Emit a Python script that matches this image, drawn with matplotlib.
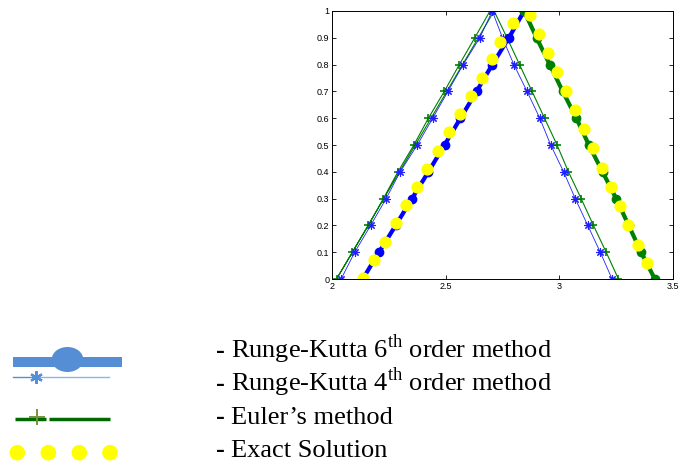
import matplotlib.pyplot as plt
from matplotlib.patches import Ellipse, Circle, Rectangle

plt.rcParams['mathtext.fontset'] = 'custom'
plt.rcParams['mathtext.rm'] = 'Liberation Serif'

# y levels used by the numerical solutions
y_lev = [0, 0.1, 0.2, 0.3, 0.4, 0.5, 0.6, 0.7, 0.8, 0.9, 1.0]

# Euler's method (thin green, +)
euler_x_up = [2.02, 2.09, 2.16, 2.226, 2.29, 2.36, 2.424, 2.494, 2.56, 2.628, 2.695]
euler_x_dn = [2.713, 2.77, 2.825, 2.88, 2.935, 2.99, 3.04, 3.096, 3.15, 3.206, 3.26]

# Runge-Kutta 4th order (thin blue, *)
rk4_x_up = [2.04, 2.10, 2.17, 2.238, 2.30, 2.375, 2.443, 2.51, 2.577, 2.65, 2.705]
rk4_x_dn = [2.705, 2.75, 2.80, 2.858, 2.914, 2.962, 3.019, 3.07, 3.125, 3.18, 3.232]

# Runge-Kutta 6th order (thick, dots)
rk6_x_up = [2.135, 2.207, 2.28, 2.352, 2.424, 2.495, 2.565, 2.636, 2.705, 2.778, 2.845]
rk6_x_dn = [2.845, 2.90, 2.958, 3.015, 3.075, 3.13, 3.19, 3.25, 3.305, 3.36, 3.42]

# exact solution (yellow dots)
exact_x = [2.135, 2.185, 2.234, 2.28, 2.326, 2.372, 2.42, 2.465, 2.514, 2.563, 2.61,
           2.658, 2.704, 2.738, 2.797, 2.87, 2.91, 2.95, 2.99, 3.03, 3.07, 3.108,
           3.148, 3.189, 3.228, 3.265, 3.304, 3.345, 3.384]
exact_y = [0.005, 0.071, 0.139, 0.208, 0.276, 0.344, 0.41, 0.478, 0.547, 0.614, 0.683,
           0.751, 0.82, 0.886, 0.954, 0.985, 0.914, 0.842, 0.772, 0.70, 0.63, 0.559,
           0.488, 0.413, 0.342, 0.272, 0.20, 0.127, 0.059]

legend_labels = ['Runge-Kutta 6$^{\\rm th}$ order method',
                 'Runge-Kutta 4$^{\\rm th}$ order method',
                 'Euler\u2019s method',
                 'Exact Solution']

W, H = 679, 461
fig = plt.figure(figsize=(W / 100, H / 100), dpi=100)
ax = fig.add_axes([332 / W, 1 - 279 / H, (673 - 332) / W, (279 - 11) / H])

star = (8, 2, 0)  # matlab-like asterisk
ax.plot(euler_x_up[::-1] + euler_x_dn, y_lev[::-1] + y_lev[::-1], color='#008000',
        lw=0.8, marker='+', ms=6, mew=1.2)
ax.plot(rk4_x_up, y_lev, color='#2020ff', lw=0.6, marker=star, ms=6, mew=0.8)
ax.plot(rk4_x_dn, y_lev[::-1], color='#2020ff', lw=0.6, marker=star, ms=6, mew=0.8)
ax.plot(rk6_x_up, y_lev, color='#0000ff', lw=3, marker='o', ms=6)
ax.plot(rk6_x_dn, y_lev[::-1], color='#008000', lw=3, marker='o', ms=6)
ax.plot(exact_x, exact_y, ls='none', marker='o', ms=7.8, color='#ffff00', mec='#ffff00')

ax.set_xlim(2, 3.5)
ax.set_ylim(0, 1)
ax.set_xticks([2, 2.5, 3, 3.5])
ax.set_xticklabels(['2', '2.5', '3', '3.5'])
ax.set_yticks(y_lev)
ax.set_yticklabels(['0', '0.1', '0.2', '0.3', '0.4', '0.5', '0.6', '0.7', '0.8', '0.9', '1'])
ax.tick_params(direction='in', length=3, width=0.6, top=True, right=True,
               labelsize=6.5, pad=2, colors='black')
for lab in ax.get_xticklabels() + ax.get_yticklabels():
    lab.set_fontfamily('Liberation Sans')
for s in ax.spines.values():
    s.set_linewidth(0.7)

# hand-drawn legend below, in pixel coordinates
lg = fig.add_axes([0, 0, 1, 1])
lg.set_xlim(0, W)
lg.set_ylim(H, 0)
lg.axis('off')

lg.add_patch(Rectangle((12.7, 356.7), 109.6, 10, color='#558ed5', lw=0))
lg.add_patch(Ellipse((67.5, 359.5), 31.6, 25, color='#558ed5', lw=0))
lg.plot([12.7, 35.7], [376.7, 376.7], color='#558ed5', lw=1)
lg.plot([35.7, 109.3], [376.7, 376.7], color='#8eb4e3', lw=1)
lg.plot([35.7], [376.7], marker=(6, 2, 0), ms=9, color='#558ed5', mew=1.6)

lg.plot([15, 46], [419.3, 419.3], color='#006a00', lw=2.5, solid_capstyle='butt')
lg.plot([48.5, 110], [419.3, 419.3], color='#006a00', lw=2.5, solid_capstyle='butt')
lg.plot([36.7], [417], marker='+', ms=11, mew=1.4, color='#77933c')

for cx in [17.3, 48.3, 79.3, 110]:
    lg.add_patch(Circle((cx, 452.7), 7.8, color='#ffff00', lw=0))

for i, lab in enumerate(legend_labels):
    yb = 358 + 33 * i
    lg.text(216, yb, '-', fontsize=19, family='Liberation Serif', weight='bold',
            va='baseline', ha='left', color='black')
    lg.text(231, yb, lab, fontsize=19, family='Liberation Serif',
            va='baseline', ha='left', color='black')

fig.savefig('out.png', dpi=100)
